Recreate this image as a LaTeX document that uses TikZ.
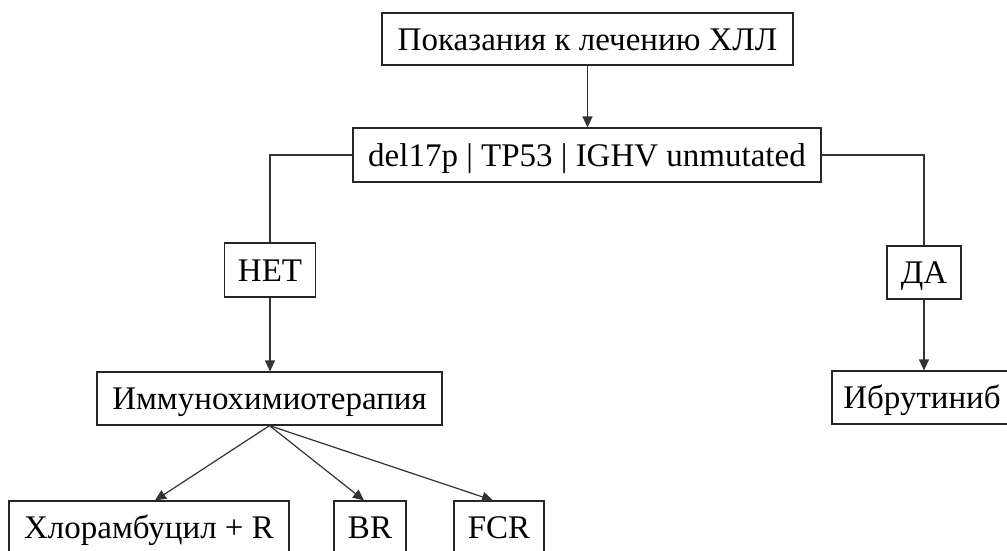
\documentclass[tikz,border=0pt]{standalone}
\usepackage{fontspec}
\setmainfont{Liberation Serif}
\usetikzlibrary{arrows.meta,calc}
\begin{document}
\begin{tikzpicture}[x=1pt,y=-1pt,
  box/.style={draw=black!85, line width=1.2pt, inner sep=0pt, font=\fontsize{33}{38}\selectfont, text height=22pt, text depth=0pt, anchor=center},
  conn/.style={draw=black!80, line width=1.2pt},
  arr/.style={conn, -{Triangle[length=11pt,width=10pt]}}]
\useasboundingbox (0,0) rectangle (1007,550);
\clip (0,0) rectangle (1007,550);
\fill[white] (0,0) rectangle (1007,550);
\node[box, minimum width=411pt, minimum height=52pt] (top) at (587.5,39) {Показания к лечению ХЛЛ};
\node[box, minimum width=468pt, minimum height=54pt] (mid) at (587,155) {del17p | TP53 | IGHV unmutated};
\node[box, minimum width=91pt, minimum height=54pt] (net) at (270,270) {НЕТ};
\node[box, minimum width=74pt, minimum height=53pt] (da) at (924,272.5) {ДА};
\node[box, minimum width=345pt, minimum height=53pt] (imm) at (269.5,398.5) {Иммунохимиотерапия};
\node[box, minimum width=180pt, minimum height=53pt] (ibr) at (922,397.5) {Ибрутиниб};
\node[box, minimum width=280pt, minimum height=53pt] (chl) at (149,527.5) {Хлорамбуцил + R};
\node[box, minimum width=72pt, minimum height=53pt] (br) at (370,527.5) {BR};
\node[box, minimum width=90pt, minimum height=53pt] (fcr) at (499,527.5) {FCR};
\draw[arr] (top.south) -- (top.south |- mid.north);
\draw[conn] (mid.west) -| (net.north);
\draw[conn] (mid.east) -| (da.north);
\draw[arr] (net.south) -- (net.south |- imm.north);
\draw[arr] (da.south) -- (da.south |- ibr.north);
\draw[arr] (imm.south) -- ([xshift=6pt]chl.north);
\draw[arr] (imm.south) -- ([xshift=-6pt]br.north);
\draw[arr] (imm.south) -- ([xshift=-6pt]fcr.north);
\end{tikzpicture}
\end{document}
